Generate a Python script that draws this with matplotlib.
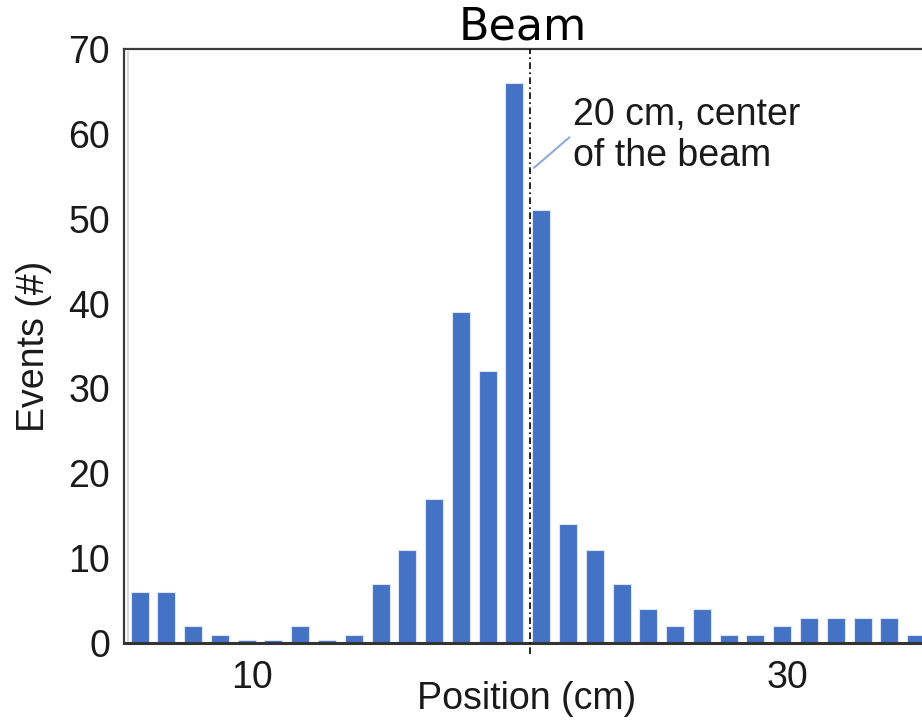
import numpy as np
import matplotlib
matplotlib.use('Agg')
import matplotlib.pyplot as plt
from matplotlib.transforms import offset_copy

plt.rcParams['font.family'] = ['Liberation Sans', 'DejaVu Sans']

# bar centres (cm) and counts
position = np.arange(5.8, 35, 1.0)
events = [6, 6, 2, 1, 0.3, 0.3, 2, 0.3, 1, 7, 11, 17, 39, 32, 66, 51, 14, 11,
          7, 4, 2, 4, 1, 1, 2, 3, 3, 3, 3, 1]
beam_center = 20.38
xticks = [10, 30]
yticks = [0, 10, 20, 30, 40, 50, 60, 70]

fig = plt.figure(figsize=(9.22, 7.2), dpi=100)
ax = fig.add_axes([124/922, 77/720, 798/922, 594/720])

ax.bar(position, events, width=0.67, color='#4472c4', edgecolor='#dbe5f5', linewidth=0.8)
ax.plot([beam_center, beam_center], [-1.3, 70], color='black', lw=1.2,
        ls=(0, (4, 2, 1, 2)), clip_on=False, zorder=3)

ax.annotate('20 cm, center\nof the beam', xy=(beam_center + 0.15, 56), xytext=(22.0, 64.3),
            fontsize=27, color='#1a1a1a', va='top', ha='left', linespacing=1.15,
            arrowprops=dict(arrowstyle='-', color='#8faadc', lw=1.5,
                            shrinkA=1, shrinkB=0, relpos=(0, 0.52)))

ax.set_xlim(5.22, 35.02)
ax.set_ylim(0, 70)
ax.set_xticks(xticks)
ax.set_yticks(yticks)
ax.tick_params(axis='both', length=0, labelsize=27, colors='#1a1a1a')
ax.tick_params(axis='x', pad=12)
ax.tick_params(axis='y', pad=10)

ax.set_xlabel('Position (cm)', fontsize=27, color='#1a1a1a')
ax.xaxis.set_label_coords(0.505, -0.064)
ax.set_ylabel('Events (#)', fontsize=27, color='#1a1a1a')
ax.yaxis.set_label_coords(-0.09, 0.5)
ax.set_title('Beam', fontsize=32, family='DejaVu Sans', pad=1.5)

ax.spines['right'].set_visible(False)
for s in ['left', 'top']:
    ax.spines[s].set_color('#3c3c3c')
    ax.spines[s].set_linewidth(1.6)
ax.spines['bottom'].set_color('#333333')
ax.spines['bottom'].set_linewidth(2.2)

# faint inner line next to the left frame
tr = offset_copy(ax.transAxes, fig=fig, x=4, y=0, units='dots')
ax.plot([0, 0], [0, 0.995], transform=tr, color='#cfcfcf', lw=1.2)

fig.savefig('out.png', dpi=100)
